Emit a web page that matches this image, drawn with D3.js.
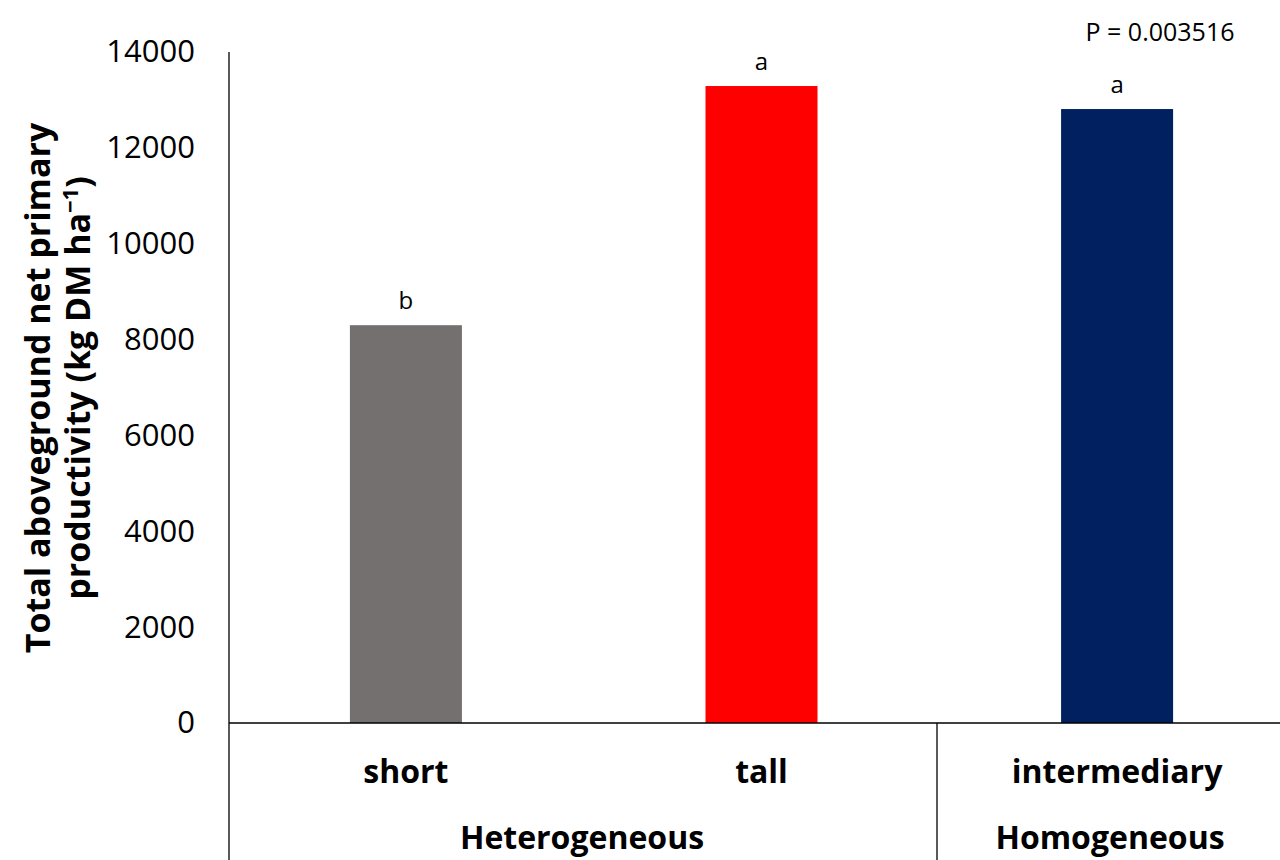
<!DOCTYPE html>
<html><head><meta charset="utf-8">
<script src="https://cdn.jsdelivr.net/npm/d3@7"></script>
<style>body{margin:0;background:#fff}</style></head>
<body><svg id="c" width="1280" height="860"></svg>
<script>
const categories = ["short","tall","intermediary"];
const values = [8300, 13290, 12810];
const letters = ["b","a","a"];
const colors = ["#757070","#ff0000","#002060"];
const groups = [{name:"Heterogeneous", from:0, to:2},{name:"Homogeneous", from:2, to:3}];
const yTicks = [0,2000,4000,6000,8000,10000,12000,14000];

const svg = d3.select("#c");
const font = "'Open Sans', Lato, sans-serif";
const x0 = 229;
const x = d3.scaleBand().domain(categories).range([x0, x0 + 1065]).paddingInner(0.685).paddingOuter(0.34);
const y = d3.scaleLinear().domain([0,14000]).range([723,52]);

svg.selectAll("rect.bar").data(categories).join("rect")
  .attr("x", d=>x(d)).attr("width", x.bandwidth())
  .attr("y", (d,i)=>y(values[i])).attr("height", (d,i)=>y(0)-y(values[i]))
  .attr("fill", (d,i)=>colors[i]);

svg.selectAll("text.let").data(categories).join("text")
  .attr("x", d=>x(d)+x.bandwidth()/2).attr("y",(d,i)=>y(values[i])-16)
  .attr("text-anchor","middle").attr("font-family",font).attr("font-size",24).text((d,i)=>letters[i]);

const ya = d3.axisLeft(y).tickValues(yTicks).tickSize(0).tickPadding(34).tickFormat(d3.format("d"));
const g = svg.append("g").attr("transform",`translate(${x0},0)`).call(ya);
g.select(".domain").attr("stroke","#000").attr("stroke-width",1.3).attr("d","M0,52V860");
g.selectAll("text").attr("font-family",font).attr("font-size",31).attr("fill","#000");

svg.append("line").attr("x1",x0).attr("x2",1280).attr("y1",y(0)).attr("y2",y(0)).attr("stroke","#000").attr("stroke-width",1.3);
svg.append("line").attr("x1",937).attr("x2",937).attr("y1",y(0)).attr("y2",860).attr("stroke","#000").attr("stroke-width",1.3);

svg.selectAll("text.cat").data(categories).join("text")
  .attr("x", d=>x(d)+x.bandwidth()/2).attr("y",783).attr("text-anchor","middle")
  .attr("font-family",font).attr("font-weight","bold").attr("font-size",32).text(d=>d);
svg.selectAll("text.grp").data(groups).join("text")
  .attr("x", d=> d.from===0 ? 582 : 1110).attr("y",849).attr("text-anchor","middle")
  .attr("font-family",font).attr("font-weight","bold").attr("font-size",32).text(d=>d.name);

const t = svg.append("text").attr("transform","translate(50,388) rotate(-90)").attr("text-anchor","middle")
  .attr("font-family",font).attr("font-weight","bold").attr("font-size",34);
t.append("tspan").attr("x",0).attr("dy",0).text("Total aboveground net primary");
t.append("tspan").attr("x",0).attr("dy",40).text("productivity (kg DM ha");
t.append("tspan").attr("dy",-12).attr("font-size",22).text("−1");
t.append("tspan").attr("dy",12).text(")");

svg.append("text").attr("x",1160).attr("y",41).attr("text-anchor","middle")
  .attr("font-family",font).attr("font-size",25).text("P = 0.003516");
</script></body></html>
